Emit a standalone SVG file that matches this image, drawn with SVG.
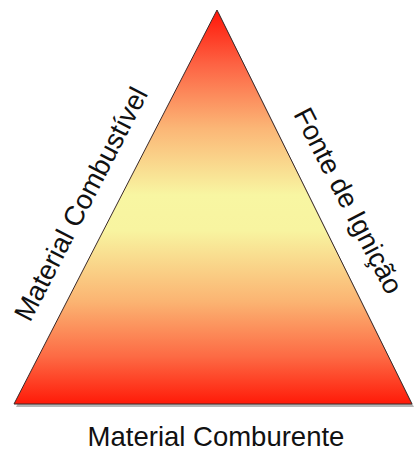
<svg xmlns="http://www.w3.org/2000/svg" width="414" height="451" viewBox="0 0 414 451">
<style>
.lbl{font-family:"Liberation Sans",Arial,sans-serif;font-size:27.5px;fill:#111}
</style>
<defs>
<linearGradient id="fire" x1="0" y1="10" x2="0" y2="404" gradientUnits="userSpaceOnUse">
<stop offset="0" stop-color="#ff1508"/>
<stop offset="0.14" stop-color="#fd6444"/>
<stop offset="0.3" stop-color="#fbb676"/>
<stop offset="0.47" stop-color="#f8f6a2"/>
<stop offset="0.56" stop-color="#f8f4a0"/>
<stop offset="0.74" stop-color="#fbb472"/>
<stop offset="0.88" stop-color="#fd6a44"/>
<stop offset="1" stop-color="#ff1a08"/>
</linearGradient>
</defs>
<rect width="414" height="451" fill="#ffffff"/>
<g id="triangle">
<polygon points="219,13 16,407 414,407" fill="#7a7a7a" opacity="0.55"/>
<polygon points="217,10 14,404 412,404" fill="url(#fire)" stroke="#3a2a2a" stroke-width="1"/>
</g>
<g id="label-combustivel">
<text class="lbl" transform="translate(30,323) rotate(-62.7)">Material Combustível</text>
</g>
<g id="label-ignicao">
<text class="lbl" transform="translate(293,114) rotate(62.7)">Fonte de Ignição</text>
</g>
<g id="label-comburente">
<text class="lbl" x="216" y="446" text-anchor="middle">Material Comburente</text>
</g>
<g id="connectors"/>
</svg>
